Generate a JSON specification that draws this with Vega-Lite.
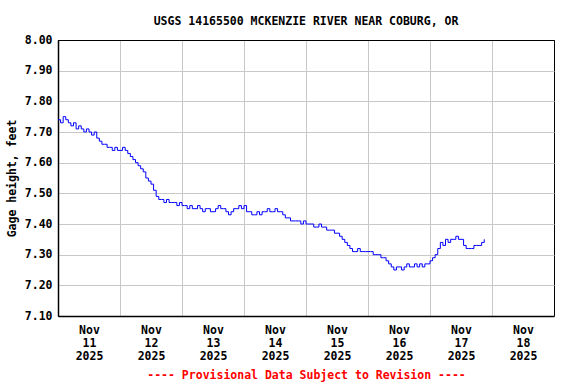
{
  "$schema": "https://vega.github.io/schema/vega-lite/v6.json",
  "autosize": "none",
  "width": 496,
  "height": 276,
  "padding": {"left": 58, "top": 40, "right": 22, "bottom": 68},
  "background": "white",
  "title": {
    "text": "USGS 14165500 MCKENZIE RIVER NEAR COBURG, OR",
    "font": "DejaVu Sans Mono",
    "fontSize": 11.5,
    "fontWeight": "bold",
    "color": "black",
    "anchor": "middle",
    "offset": 7
  },
  "config": {
    "view": {"stroke": "black", "strokeWidth": 1}
  },
  "data": {
    "values": [
      {"time": "2025-11-11T00:00:00Z", "gage": 7.74},
      {"time": "2025-11-11T01:00:00Z", "gage": 7.73},
      {"time": "2025-11-11T02:00:00Z", "gage": 7.75},
      {"time": "2025-11-11T03:00:00Z", "gage": 7.74},
      {"time": "2025-11-11T04:00:00Z", "gage": 7.73},
      {"time": "2025-11-11T05:00:00Z", "gage": 7.72},
      {"time": "2025-11-11T06:00:00Z", "gage": 7.73},
      {"time": "2025-11-11T07:00:00Z", "gage": 7.71},
      {"time": "2025-11-11T08:00:00Z", "gage": 7.72},
      {"time": "2025-11-11T09:00:00Z", "gage": 7.71},
      {"time": "2025-11-11T10:00:00Z", "gage": 7.70},
      {"time": "2025-11-11T11:00:00Z", "gage": 7.71},
      {"time": "2025-11-11T12:00:00Z", "gage": 7.70},
      {"time": "2025-11-11T13:00:00Z", "gage": 7.69},
      {"time": "2025-11-11T14:00:00Z", "gage": 7.70},
      {"time": "2025-11-11T15:00:00Z", "gage": 7.68},
      {"time": "2025-11-11T16:00:00Z", "gage": 7.67},
      {"time": "2025-11-11T17:00:00Z", "gage": 7.66},
      {"time": "2025-11-11T18:00:00Z", "gage": 7.66},
      {"time": "2025-11-11T19:00:00Z", "gage": 7.65},
      {"time": "2025-11-11T20:00:00Z", "gage": 7.65},
      {"time": "2025-11-11T21:00:00Z", "gage": 7.64},
      {"time": "2025-11-11T22:00:00Z", "gage": 7.65},
      {"time": "2025-11-11T23:00:00Z", "gage": 7.64},
      {"time": "2025-11-12T00:00:00Z", "gage": 7.64},
      {"time": "2025-11-12T01:00:00Z", "gage": 7.65},
      {"time": "2025-11-12T02:00:00Z", "gage": 7.64},
      {"time": "2025-11-12T03:00:00Z", "gage": 7.63},
      {"time": "2025-11-12T04:00:00Z", "gage": 7.62},
      {"time": "2025-11-12T05:00:00Z", "gage": 7.61},
      {"time": "2025-11-12T06:00:00Z", "gage": 7.60},
      {"time": "2025-11-12T07:00:00Z", "gage": 7.59},
      {"time": "2025-11-12T08:00:00Z", "gage": 7.58},
      {"time": "2025-11-12T09:00:00Z", "gage": 7.57},
      {"time": "2025-11-12T10:00:00Z", "gage": 7.55},
      {"time": "2025-11-12T11:00:00Z", "gage": 7.54},
      {"time": "2025-11-12T12:00:00Z", "gage": 7.53},
      {"time": "2025-11-12T13:00:00Z", "gage": 7.51},
      {"time": "2025-11-12T14:00:00Z", "gage": 7.49},
      {"time": "2025-11-12T15:00:00Z", "gage": 7.48},
      {"time": "2025-11-12T16:00:00Z", "gage": 7.48},
      {"time": "2025-11-12T17:00:00Z", "gage": 7.47},
      {"time": "2025-11-12T18:00:00Z", "gage": 7.48},
      {"time": "2025-11-12T19:00:00Z", "gage": 7.47},
      {"time": "2025-11-12T20:00:00Z", "gage": 7.47},
      {"time": "2025-11-12T21:00:00Z", "gage": 7.47},
      {"time": "2025-11-12T22:00:00Z", "gage": 7.46},
      {"time": "2025-11-12T23:00:00Z", "gage": 7.47},
      {"time": "2025-11-13T00:00:00Z", "gage": 7.46},
      {"time": "2025-11-13T01:00:00Z", "gage": 7.46},
      {"time": "2025-11-13T02:00:00Z", "gage": 7.45},
      {"time": "2025-11-13T03:00:00Z", "gage": 7.46},
      {"time": "2025-11-13T04:00:00Z", "gage": 7.45},
      {"time": "2025-11-13T05:00:00Z", "gage": 7.45},
      {"time": "2025-11-13T06:00:00Z", "gage": 7.46},
      {"time": "2025-11-13T07:00:00Z", "gage": 7.45},
      {"time": "2025-11-13T08:00:00Z", "gage": 7.44},
      {"time": "2025-11-13T09:00:00Z", "gage": 7.45},
      {"time": "2025-11-13T10:00:00Z", "gage": 7.45},
      {"time": "2025-11-13T11:00:00Z", "gage": 7.44},
      {"time": "2025-11-13T12:00:00Z", "gage": 7.44},
      {"time": "2025-11-13T13:00:00Z", "gage": 7.45},
      {"time": "2025-11-13T14:00:00Z", "gage": 7.46},
      {"time": "2025-11-13T15:00:00Z", "gage": 7.45},
      {"time": "2025-11-13T16:00:00Z", "gage": 7.45},
      {"time": "2025-11-13T17:00:00Z", "gage": 7.44},
      {"time": "2025-11-13T18:00:00Z", "gage": 7.43},
      {"time": "2025-11-13T19:00:00Z", "gage": 7.44},
      {"time": "2025-11-13T20:00:00Z", "gage": 7.45},
      {"time": "2025-11-13T21:00:00Z", "gage": 7.45},
      {"time": "2025-11-13T22:00:00Z", "gage": 7.46},
      {"time": "2025-11-13T23:00:00Z", "gage": 7.45},
      {"time": "2025-11-14T00:00:00Z", "gage": 7.46},
      {"time": "2025-11-14T01:00:00Z", "gage": 7.44},
      {"time": "2025-11-14T02:00:00Z", "gage": 7.44},
      {"time": "2025-11-14T03:00:00Z", "gage": 7.43},
      {"time": "2025-11-14T04:00:00Z", "gage": 7.43},
      {"time": "2025-11-14T05:00:00Z", "gage": 7.44},
      {"time": "2025-11-14T06:00:00Z", "gage": 7.43},
      {"time": "2025-11-14T07:00:00Z", "gage": 7.44},
      {"time": "2025-11-14T08:00:00Z", "gage": 7.44},
      {"time": "2025-11-14T09:00:00Z", "gage": 7.45},
      {"time": "2025-11-14T10:00:00Z", "gage": 7.44},
      {"time": "2025-11-14T11:00:00Z", "gage": 7.44},
      {"time": "2025-11-14T12:00:00Z", "gage": 7.45},
      {"time": "2025-11-14T13:00:00Z", "gage": 7.44},
      {"time": "2025-11-14T14:00:00Z", "gage": 7.44},
      {"time": "2025-11-14T15:00:00Z", "gage": 7.43},
      {"time": "2025-11-14T16:00:00Z", "gage": 7.42},
      {"time": "2025-11-14T17:00:00Z", "gage": 7.42},
      {"time": "2025-11-14T18:00:00Z", "gage": 7.41},
      {"time": "2025-11-14T19:00:00Z", "gage": 7.41},
      {"time": "2025-11-14T20:00:00Z", "gage": 7.41},
      {"time": "2025-11-14T21:00:00Z", "gage": 7.41},
      {"time": "2025-11-14T22:00:00Z", "gage": 7.40},
      {"time": "2025-11-14T23:00:00Z", "gage": 7.41},
      {"time": "2025-11-15T00:00:00Z", "gage": 7.40},
      {"time": "2025-11-15T01:00:00Z", "gage": 7.40},
      {"time": "2025-11-15T02:00:00Z", "gage": 7.40},
      {"time": "2025-11-15T03:00:00Z", "gage": 7.39},
      {"time": "2025-11-15T04:00:00Z", "gage": 7.39},
      {"time": "2025-11-15T05:00:00Z", "gage": 7.40},
      {"time": "2025-11-15T06:00:00Z", "gage": 7.39},
      {"time": "2025-11-15T07:00:00Z", "gage": 7.39},
      {"time": "2025-11-15T08:00:00Z", "gage": 7.38},
      {"time": "2025-11-15T09:00:00Z", "gage": 7.38},
      {"time": "2025-11-15T10:00:00Z", "gage": 7.38},
      {"time": "2025-11-15T11:00:00Z", "gage": 7.37},
      {"time": "2025-11-15T12:00:00Z", "gage": 7.37},
      {"time": "2025-11-15T13:00:00Z", "gage": 7.36},
      {"time": "2025-11-15T14:00:00Z", "gage": 7.35},
      {"time": "2025-11-15T15:00:00Z", "gage": 7.34},
      {"time": "2025-11-15T16:00:00Z", "gage": 7.33},
      {"time": "2025-11-15T17:00:00Z", "gage": 7.32},
      {"time": "2025-11-15T18:00:00Z", "gage": 7.31},
      {"time": "2025-11-15T19:00:00Z", "gage": 7.31},
      {"time": "2025-11-15T20:00:00Z", "gage": 7.32},
      {"time": "2025-11-15T21:00:00Z", "gage": 7.31},
      {"time": "2025-11-15T22:00:00Z", "gage": 7.31},
      {"time": "2025-11-15T23:00:00Z", "gage": 7.31},
      {"time": "2025-11-16T00:00:00Z", "gage": 7.31},
      {"time": "2025-11-16T01:00:00Z", "gage": 7.31},
      {"time": "2025-11-16T02:00:00Z", "gage": 7.30},
      {"time": "2025-11-16T03:00:00Z", "gage": 7.30},
      {"time": "2025-11-16T04:00:00Z", "gage": 7.30},
      {"time": "2025-11-16T05:00:00Z", "gage": 7.29},
      {"time": "2025-11-16T06:00:00Z", "gage": 7.29},
      {"time": "2025-11-16T07:00:00Z", "gage": 7.28},
      {"time": "2025-11-16T08:00:00Z", "gage": 7.27},
      {"time": "2025-11-16T09:00:00Z", "gage": 7.26},
      {"time": "2025-11-16T10:00:00Z", "gage": 7.25},
      {"time": "2025-11-16T11:00:00Z", "gage": 7.26},
      {"time": "2025-11-16T12:00:00Z", "gage": 7.26},
      {"time": "2025-11-16T13:00:00Z", "gage": 7.25},
      {"time": "2025-11-16T14:00:00Z", "gage": 7.26},
      {"time": "2025-11-16T15:00:00Z", "gage": 7.27},
      {"time": "2025-11-16T16:00:00Z", "gage": 7.26},
      {"time": "2025-11-16T17:00:00Z", "gage": 7.26},
      {"time": "2025-11-16T18:00:00Z", "gage": 7.27},
      {"time": "2025-11-16T19:00:00Z", "gage": 7.26},
      {"time": "2025-11-16T20:00:00Z", "gage": 7.27},
      {"time": "2025-11-16T21:00:00Z", "gage": 7.26},
      {"time": "2025-11-16T22:00:00Z", "gage": 7.27},
      {"time": "2025-11-16T23:00:00Z", "gage": 7.27},
      {"time": "2025-11-17T00:00:00Z", "gage": 7.28},
      {"time": "2025-11-17T01:00:00Z", "gage": 7.29},
      {"time": "2025-11-17T02:00:00Z", "gage": 7.30},
      {"time": "2025-11-17T03:00:00Z", "gage": 7.32},
      {"time": "2025-11-17T04:00:00Z", "gage": 7.34},
      {"time": "2025-11-17T05:00:00Z", "gage": 7.33},
      {"time": "2025-11-17T06:00:00Z", "gage": 7.35},
      {"time": "2025-11-17T07:00:00Z", "gage": 7.34},
      {"time": "2025-11-17T08:00:00Z", "gage": 7.35},
      {"time": "2025-11-17T09:00:00Z", "gage": 7.35},
      {"time": "2025-11-17T10:00:00Z", "gage": 7.36},
      {"time": "2025-11-17T11:00:00Z", "gage": 7.35},
      {"time": "2025-11-17T12:00:00Z", "gage": 7.35},
      {"time": "2025-11-17T13:00:00Z", "gage": 7.33},
      {"time": "2025-11-17T14:00:00Z", "gage": 7.32},
      {"time": "2025-11-17T15:00:00Z", "gage": 7.32},
      {"time": "2025-11-17T16:00:00Z", "gage": 7.32},
      {"time": "2025-11-17T17:00:00Z", "gage": 7.33},
      {"time": "2025-11-17T18:00:00Z", "gage": 7.33},
      {"time": "2025-11-17T19:00:00Z", "gage": 7.33},
      {"time": "2025-11-17T20:00:00Z", "gage": 7.34},
      {"time": "2025-11-17T21:00:00Z", "gage": 7.35}
    ]
  },
  "mark": {"type": "line", "color": "#0000ff", "strokeWidth": 1, "interpolate": "step-after"},
  "encoding": {
    "x": {
      "field": "time",
      "type": "temporal",
      "scale": {
        "type": "utc",
        "nice": false,
        "domain": [
          {"year": 2025, "month": 11, "date": 11, "utc": true},
          {"year": 2025, "month": 11, "date": 19, "utc": true}
        ]
      },
      "axis": {
        "title": "---- Provisional Data Subject to Revision ----",
        "titleColor": "#ff0000",
        "titleFont": "DejaVu Sans Mono",
        "titleFontSize": 11.5,
        "titleFontWeight": "bold",
        "titlePadding": 8,
        "values": [
          {"year": 2025, "month": 11, "date": 11, "utc": true},
          {"year": 2025, "month": 11, "date": 12, "utc": true},
          {"year": 2025, "month": 11, "date": 13, "utc": true},
          {"year": 2025, "month": 11, "date": 14, "utc": true},
          {"year": 2025, "month": 11, "date": 15, "utc": true},
          {"year": 2025, "month": 11, "date": 16, "utc": true},
          {"year": 2025, "month": 11, "date": 17, "utc": true},
          {"year": 2025, "month": 11, "date": 18, "utc": true}
        ],
        "labelExpr": "[utcFormat(datum.value, '%b'), utcFormat(datum.value, '%d'), utcFormat(datum.value, '%Y')]",
        "labelOffset": 31,
        "labelFont": "DejaVu Sans Mono",
        "labelFontSize": 11.5,
        "labelFontWeight": "bold",
        "labelColor": "black",
        "labelLineHeight": 13,
        "labelPadding": 8,
        "labelOverlap": false,
        "labelFlush": false,
        "ticks": false,
        "domain": true,
        "domainColor": "black",
        "domainWidth": 1.5,
        "grid": true,
        "gridColor": {"condition": {"test": "datum.index == 0", "value": "black"}, "value": "#c8c8c8"},
        "gridWidth": 1,
        "gridOpacity": 1
      }
    },
    "y": {
      "field": "gage",
      "type": "quantitative",
      "scale": {"domain": [7.1, 8.0], "nice": false, "zero": false},
      "axis": {
        "title": "Gage height, feet",
        "titleFont": "DejaVu Sans Mono",
        "titleFontSize": 11.5,
        "titleFontWeight": "bold",
        "titleColor": "black",
        "titlePadding": 7,
        "values": [7.1, 7.2, 7.3, 7.4, 7.5, 7.6, 7.7, 7.8, 7.9, 8.0],
        "format": ".2f",
        "labelFont": "DejaVu Sans Mono",
        "labelFontSize": 11.5,
        "labelFontWeight": "bold",
        "labelColor": "black",
        "labelPadding": 6,
        "labelOverlap": false,
        "labelFlush": false,
        "ticks": false,
        "domain": true,
        "domainColor": "black",
        "domainWidth": 1.5,
        "grid": true,
        "gridColor": {"condition": {"test": "datum.value >= 7.999", "value": "black"}, "value": "#c8c8c8"},
        "gridWidth": 1,
        "gridOpacity": 1
      }
    }
  }
}
